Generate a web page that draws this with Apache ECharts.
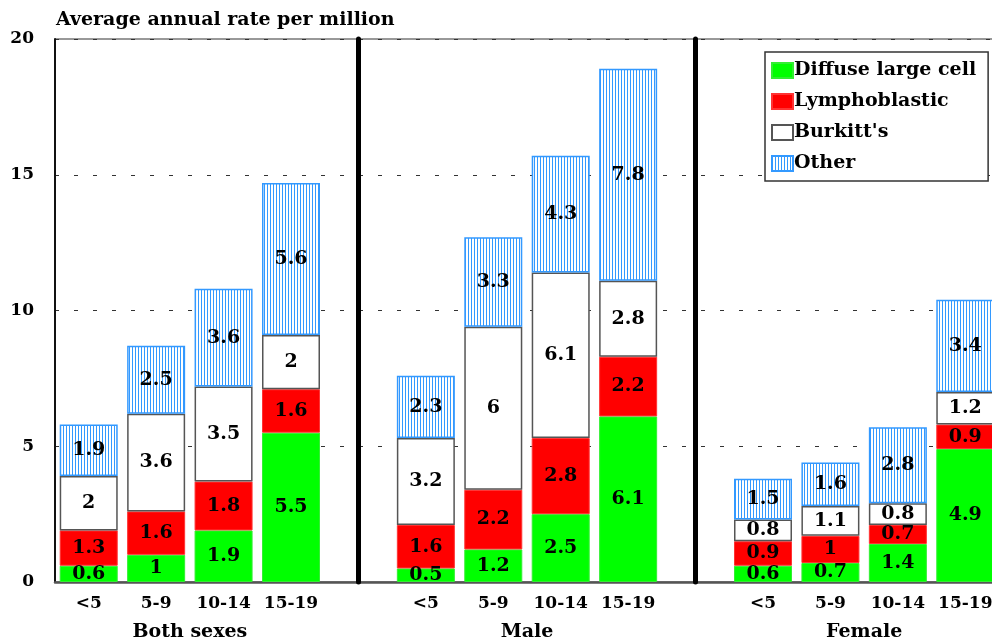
<!DOCTYPE html>
<html>
<head>
<meta charset="utf-8">
<script src="https://cdn.jsdelivr.net/npm/echarts@6/dist/echarts.min.js"></script>
<style>
html,body{margin:0;padding:0;background:#fff;}
#chart{width:992px;height:644px;}
</style>
</head>
<body>
<div id="chart"></div>
<script>
const ageGroups = ['<5', '5-9', '10-14', '15-19'];
const groupNames = ['Both sexes', 'Male', 'Female'];
const seriesNames = ['Diffuse large cell', 'Lymphoblastic', "Burkitt's", 'Other'];
// values per group: Both sexes (4), Male (4), Female (4)
const diffuse = [0.6, 1, 1.9, 5.5, 0.5, 1.2, 2.5, 6.1, 0.6, 0.7, 1.4, 4.9];
const lymphoblastic = [1.3, 1.6, 1.8, 1.6, 1.6, 2.2, 2.8, 2.2, 0.9, 1, 0.7, 0.9];
const burkitts = [2, 3.6, 3.5, 2, 3.2, 6, 6.1, 2.8, 0.8, 1.1, 0.8, 1.2];
const other = [1.9, 2.5, 3.6, 5.6, 2.3, 3.3, 4.3, 7.8, 1.5, 1.6, 2.8, 3.4];
const yTicks = [0, 5, 10, 15, 20];

const FONT = 'DejaVu Serif';

function pad(arr) {
  const out = [];
  groupNames.forEach((g, gi) => {
    if (gi > 0) out.push(null);
    for (let i = 0; i < ageGroups.length; i++) out.push(arr[gi * ageGroups.length + i]);
  });
  return out;
}
const slotLabels = [];
const sepSlots = [];
groupNames.forEach((g, gi) => {
  if (gi > 0) { sepSlots.push(slotLabels.length); slotLabels.push(' '.repeat(gi)); }
  ageGroups.forEach(a => slotLabels.push(a));
});
const nSlots = slotLabels.length;
const groupCenters = [];
{
  let s = 0;
  groupNames.forEach((g, gi) => {
    if (gi > 0) s += 1;
    groupCenters.push(s + ageGroups.length / 2);
    s += ageGroups.length;
  });
}

// stripe pattern for "Other"
const pc = document.createElement('canvas');
pc.width = 3; pc.height = 4;
const pctx = pc.getContext('2d');
pctx.fillStyle = '#ffffff'; pctx.fillRect(0, 0, 3, 4);
pctx.fillStyle = '#3399ff'; pctx.fillRect(0, 0, 1, 4);

const labelStyle = {
  show: true,
  position: 'inside',
  color: '#000',
  fontFamily: FONT,
  fontWeight: 'bold',
  fontSize: 19,
  formatter: p => (p.value == null ? '' : String(p.value))
};

const styles = [
  { color: '#00ff00', borderColor: '#33ee33', borderWidth: 1 },
  { color: '#ff0000', borderColor: '#ff3333', borderWidth: 1 },
  { color: '#ffffff', borderColor: '#555555', borderWidth: 1.5 },
  { color: { image: pc, repeat: 'repeat' }, borderColor: '#3399ff', borderWidth: 1.5 }
];
const values = [diffuse, lymphoblastic, burkitts, other];

const series = seriesNames.map((name, i) => ({
  name: name,
  type: 'bar',
  stack: 'total',
  barWidth: 58,
  data: pad(values[i]),
  itemStyle: styles[i],
  label: labelStyle,
  emphasis: { disabled: true },
  animation: false
}));
series[0].markLine = {
  silent: true,
  symbol: 'none',
  animation: false,
  label: { show: false },
  lineStyle: { color: '#000', width: 5, type: 'solid', cap: 'round' },
  data: sepSlots.map(s => ({ xAxis: s }))
};

const chart = echarts.init(document.getElementById('chart'), null, { renderer: 'canvas' });
chart.setOption({
  animation: false,
  backgroundColor: '#fff',
  textStyle: { fontFamily: FONT, fontWeight: 'bold' },
  grid: {
    left: 55, top: 39, width: 944, height: 543,
    outerBoundsMode: 'none',
    containLabel: false,
    show: true, borderColor: '#333', borderWidth: 1, backgroundColor: 'transparent'
  },
  legend: {
    orient: 'vertical',
    left: 765, top: 52,
    icon: 'rect',
    itemWidth: 21, itemHeight: 15, itemGap: 12,
    padding: [9, 12, 8, 6],
    backgroundColor: '#fff',
    borderColor: '#333',
    borderWidth: 1.5,
    borderRadius: 0,
    textStyle: { fontFamily: FONT, fontWeight: 'bold', fontSize: 19, color: '#000', padding: [0, 0, 0, -4] },
    data: seriesNames
  },
  xAxis: [
    {
      type: 'category',
      data: slotLabels,
      axisLine: { show: true, lineStyle: { color: '#555', width: 2.5 } },
      axisTick: { show: false },
      axisLabel: { color: '#000', fontFamily: FONT, fontWeight: 'bold', fontSize: 17, margin: 13, interval: 0 },
      splitLine: { show: false }
    },
    {
      type: 'value',
      min: 0, max: nSlots,
      position: 'bottom',
      axisLine: { show: false },
      axisTick: { show: false },
      splitLine: { show: false },
      axisLabel: {
        customValues: groupCenters,
        color: '#000', fontFamily: FONT, fontWeight: 'bold', fontSize: 19, margin: 41,
        formatter: v => {
          const idx = groupCenters.indexOf(v);
          return idx >= 0 ? groupNames[idx] : '';
        }
      }
    }
  ],
  yAxis: {
    type: 'value',
    min: 0, max: 20, interval: 5,
    name: 'Average annual rate per million',
    nameLocation: 'end',
    nameGap: 9,
    nameTextStyle: { color: '#000', fontFamily: FONT, fontWeight: 'bold', fontSize: 19, align: 'left', padding: [0, 0, 0, 1] },
    axisLine: { show: true, lineStyle: { color: '#111', width: 2 } },
    axisTick: { show: false },
    axisLabel: { color: '#000', fontFamily: FONT, fontWeight: 'bold', fontSize: 17, margin: 21,
      customValues: yTicks },
    splitLine: { show: true, lineStyle: { color: '#333', width: 1, type: [4, 15] } }
  },
  series: series
});
</script>
</body>
</html>
